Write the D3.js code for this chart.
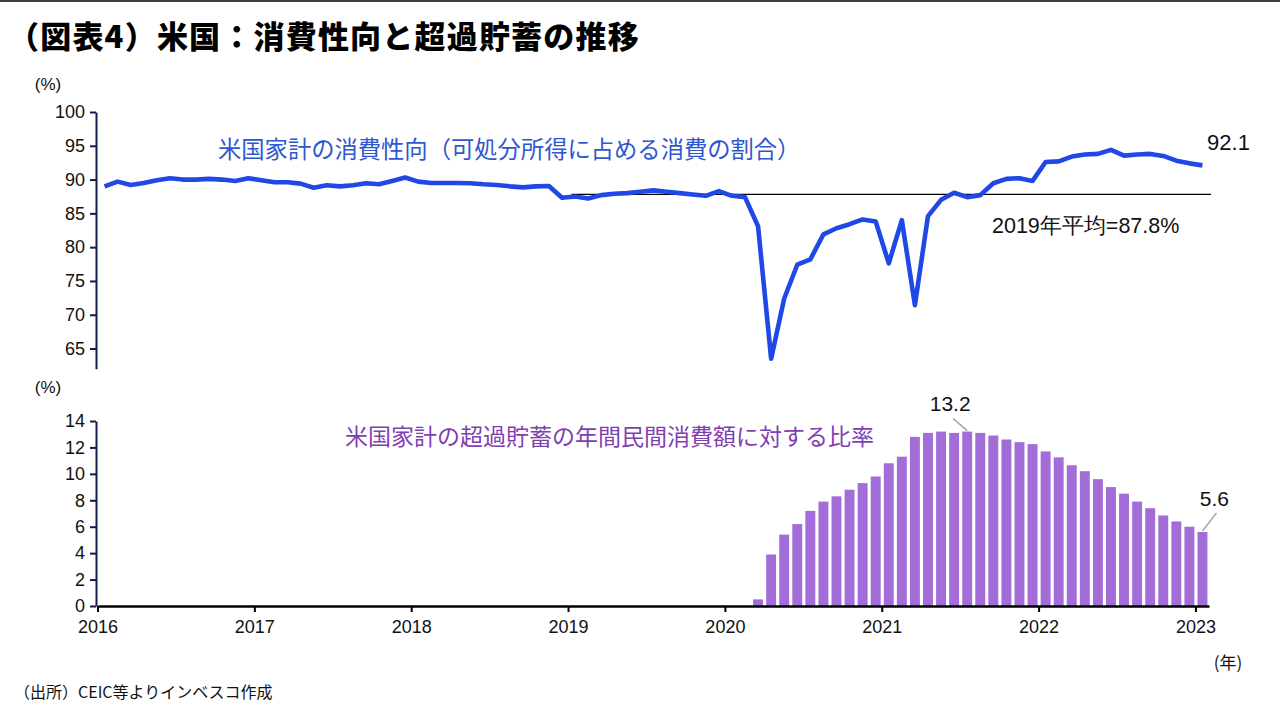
<!DOCTYPE html>
<html><head><meta charset="utf-8">
<script src="https://cdn.jsdelivr.net/npm/d3@7/dist/d3.min.js"></script>
<style>
html,body{margin:0;padding:0;background:#fff;}
svg{display:block;}
</style></head>
<body>
<svg id="c" width="1280" height="720"></svg>
<script>
// ---------- DATA ----------
const years = [2016, 2017, 2018, 2019, 2020, 2021, 2022, 2023];
const yearLabels = ["2016","2017","2018","2019","2020","2021","2022","2023"];
// Monthly propensity to consume, Jan 2016 .. Jan 2023 (%)
const consumptionRatio = [
  89.0, 89.7, 89.2, 89.5, 89.9, 90.2, 90.0, 90.0, 90.1, 90.0, 89.8, 90.2,
  89.9, 89.6, 89.6, 89.4, 88.8, 89.15, 89.0, 89.15, 89.45, 89.3, 89.8, 90.3,
  89.7, 89.5, 89.5, 89.5, 89.45, 89.3, 89.2, 89.0, 88.85, 89.0, 89.05, 87.3,
  87.5, 87.2, 87.7, 87.9, 88.0, 88.2, 88.4, 88.2, 88.0, 87.8, 87.6, 88.3,
  87.6, 87.4, 83.1, 63.5, 72.4, 77.4, 78.2, 81.9, 82.8, 83.4, 84.1, 83.8,
  77.6, 84.0, 71.4, 84.6, 87.0, 88.05, 87.4, 87.7, 89.45, 90.1, 90.2, 89.8,
  92.6, 92.7, 93.4, 93.7, 93.8, 94.4, 93.55, 93.7, 93.8, 93.5, 92.8, 92.4,
  92.1
];
// Excess savings / annual private consumption (%), Mar 2020 .. Jan 2023
const savingsStart = "2020-03";
const excessSavings = [
  0.5, 3.9, 5.4, 6.2, 7.2, 7.9, 8.3, 8.8, 9.3, 9.8,
  10.8, 11.3, 12.8, 13.1, 13.2, 13.1, 13.2, 13.1, 12.9, 12.6, 12.4, 12.25,
  11.7, 11.25, 10.65, 10.2, 9.6, 9.0, 8.5, 7.9, 7.4, 6.85, 6.4, 6.0,
  5.6
];
const avg2019 = 87.8;
const topTicks = [65, 70, 75, 80, 85, 90, 95, 100];
const bottomTicks = [0, 2, 4, 6, 8, 10, 12, 14];
const peakLabel = {month: "2021-07", value: 13.2, text: "13.2"};
const lastSavingsLabel = {month: "2023-01", value: 5.6, text: "5.6"};
const lastRatioLabel = {month: "2023-01", value: 92.1, text: "92.1"};

// month categories
const months = [];
years.forEach(y => { for (let m = 1; m <= 12; m++) months.push(y + "-" + String(m).padStart(2, "0")); });
months.length = consumptionRatio.length; // through Jan 2023
const startIdx = months.indexOf(savingsStart);
const savingsData = excessSavings.map((v, k) => ({month: months[startIdx + k], value: v}));
const ratioData = consumptionRatio.map((v, i) => ({month: months[i], value: v}));

// ---------- SCALES ----------
const svg = d3.select("#c");
const x = d3.scaleBand().domain(months).range([98, 1209]).padding(0);
const xc = m => x(m) + x.bandwidth() / 2;
const yTop = d3.scaleLinear().domain([62, 100]).range([368.8, 112]);
const yBot = d3.scaleLinear().domain([0, 14]).range([606, 421]);

const numFont = "'Liberation Sans', Arial, sans-serif";
const jpFont = "'Noto Sans CJK JP', 'Noto Sans', sans-serif";

// top rule
svg.append("line").attr("x1", 0).attr("x2", 1280).attr("y1", 1).attr("y2", 1)
  .attr("stroke", "#000").attr("stroke-width", 1.5);

// title
svg.append("text").attr("x", 8).attr("y", 48)
  .attr("font-family", jpFont).attr("font-weight", 900).attr("font-size", 31)
  .attr("letter-spacing", 1.2)
  .attr("fill", "#000").text("（図表4）米国：消費性向と超過貯蓄の推移");

// ---------- TOP CHART ----------
const gTopAxis = svg.append("g").attr("transform", "translate(96,0)")
  .call(d3.axisLeft(yTop).tickValues(topTicks).tickSize(6).tickSizeOuter(0).tickPadding(5));
gTopAxis.select(".domain").attr("stroke", "#0f1a4f").attr("stroke-width", 2);
gTopAxis.selectAll(".tick line").attr("stroke", "#0f1a4f").attr("stroke-width", 2);
gTopAxis.selectAll(".tick text").attr("font-family", numFont).attr("font-size", 18).attr("fill", "#111");

svg.append("text").attr("x", 48).attr("y", 90).attr("text-anchor", "middle")
  .attr("font-family", numFont).attr("font-size", 17).attr("fill", "#111").text("(%)");

// 2019 average line
svg.append("line")
  .attr("x1", x("2019-01") + 3).attr("x2", x.range()[1] + 2)
  .attr("y1", yTop(avg2019)).attr("y2", yTop(avg2019))
  .attr("stroke", "#000").attr("stroke-width", 1.2);

svg.append("path").datum(ratioData)
  .attr("fill", "none").attr("stroke", "#1f48e6").attr("stroke-width", 4.6)
  .attr("stroke-linejoin", "round").attr("stroke-linecap", "butt")
  .attr("d", d3.line().x(d => xc(d.month)).y(d => yTop(d.value)));

svg.append("text").attr("x", 218).attr("y", 158)
  .attr("font-family", jpFont).attr("font-size", 23.3).attr("fill", "#2f57cf")
  .text("米国家計の消費性向（可処分所得に占める消費の割合）");

svg.append("text").attr("x", 992).attr("y", 233)
  .attr("font-family", numFont).attr("font-size", 21.5).attr("fill", "#111")
  .text("2019年平均=87.8%");

svg.append("text").attr("x", xc(lastRatioLabel.month) + 26).attr("y", yTop(lastRatioLabel.value) - 15)
  .attr("text-anchor", "middle")
  .attr("font-family", numFont).attr("font-size", 22).attr("fill", "#111").text(lastRatioLabel.text);

// ---------- BOTTOM CHART ----------
const barPad = 0.12;
svg.append("g").selectAll("rect").data(savingsData).join("rect")
  .attr("x", d => x(d.month) + x.bandwidth() * barPad)
  .attr("width", x.bandwidth() * (1 - 2 * barPad))
  .attr("y", d => yBot(d.value))
  .attr("height", d => yBot(0) - yBot(d.value))
  .attr("fill", "#a26cd9");

const gBotAxis = svg.append("g").attr("transform", "translate(96,0)")
  .call(d3.axisLeft(yBot).tickValues(bottomTicks).tickSize(6).tickSizeOuter(0).tickPadding(5));
gBotAxis.select(".domain").attr("stroke", "#0f1a4f").attr("stroke-width", 2);
gBotAxis.selectAll(".tick line").attr("stroke", "#0f1a4f").attr("stroke-width", 2);
gBotAxis.selectAll(".tick text").attr("font-family", numFont).attr("font-size", 18).attr("fill", "#111");

svg.append("text").attr("x", 48).attr("y", 393).attr("text-anchor", "middle")
  .attr("font-family", numFont).attr("font-size", 17).attr("fill", "#111").text("(%)");

// x axis
const janMonths = years.map(y => y + "-01");
const gX = svg.append("g").attr("transform", "translate(0," + yBot(0) + ")")
  .call(d3.axisBottom(x).tickValues(janMonths).tickSize(6).tickSizeOuter(0).tickPadding(8)
    .tickFormat((d, i) => yearLabels[i]));
gX.selectAll(".tick").attr("transform", d => "translate(" + x(d) + ",0)");
gX.select(".domain").attr("stroke", "#000").attr("stroke-width", 2.5);
gX.selectAll(".tick line").attr("stroke", "#000").attr("stroke-width", 2);
gX.selectAll(".tick text").attr("font-family", numFont).attr("font-size", 18).attr("fill", "#111");

svg.append("text").attr("x", 345).attr("y", 445)
  .attr("font-family", jpFont).attr("font-size", 23).attr("fill", "#7f3fb0")
  .text("米国家計の超過貯蓄の年間民間消費額に対する比率");

// bar labels with leader lines
svg.append("line")
  .attr("x1", xc(peakLabel.month) - 14).attr("y1", yBot(peakLabel.value) - 13)
  .attr("x2", xc(peakLabel.month)).attr("y2", yBot(peakLabel.value) - 1)
  .attr("stroke", "#a6a6a6").attr("stroke-width", 1.5);
svg.append("text").attr("x", xc(peakLabel.month) - 17).attr("y", yBot(peakLabel.value) - 21)
  .attr("text-anchor", "middle")
  .attr("font-family", numFont).attr("font-size", 21).attr("fill", "#111").text(peakLabel.text);

svg.append("line")
  .attr("x1", xc(lastSavingsLabel.month)).attr("y1", yBot(lastSavingsLabel.value) - 1)
  .attr("x2", xc(lastSavingsLabel.month) + 14).attr("y2", yBot(lastSavingsLabel.value) - 19)
  .attr("stroke", "#a6a6a6").attr("stroke-width", 1.5);
svg.append("text").attr("x", xc(lastSavingsLabel.month) + 12).attr("y", yBot(lastSavingsLabel.value) - 26)
  .attr("text-anchor", "middle")
  .attr("font-family", numFont).attr("font-size", 21).attr("fill", "#111").text(lastSavingsLabel.text);

// unit and source
svg.append("text").attr("x", 1228).attr("y", 669).attr("text-anchor", "middle")
  .attr("font-family", jpFont).attr("font-size", 17).attr("fill", "#111").text("(年)");
svg.append("text").attr("x", 14).attr("y", 698)
  .attr("font-family", jpFont).attr("font-size", 16).attr("fill", "#111")
  .text("（出所）CEIC等よりインベスコ作成");
</script>
</body></html>
